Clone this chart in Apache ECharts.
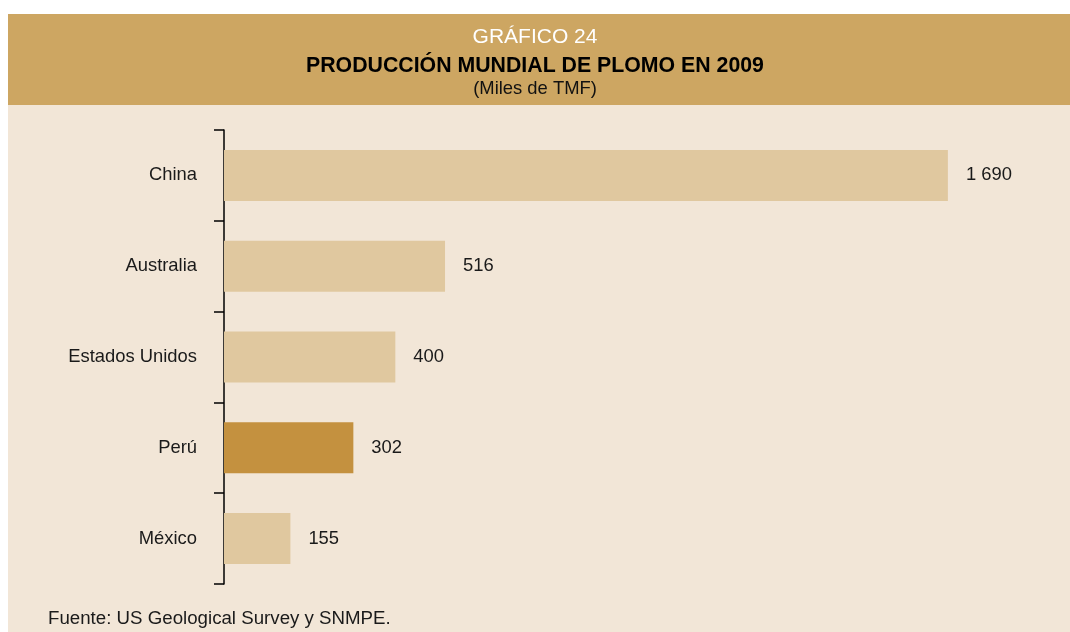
<!DOCTYPE html>
<html>
<head>
<meta charset="utf-8">
<script src="https://cdn.jsdelivr.net/npm/echarts@6/dist/echarts.min.js"></script>
<style>
  html, body { margin: 0; padding: 0; background: #ffffff; }
  #chart { width: 1070px; height: 632px; }
</style>
</head>
<body>
<div id="chart"></div>
<script>
const categories = ['China', 'Australia', 'Estados Unidos', 'Perú', 'México']
const values = [1690, 516, 400, 302, 155]
const highlight = 'Perú'

const barColor = '#E0C89F'
const peruColor = '#C4913F'
const fontFamily = '"Liberation Sans", Arial, sans-serif'

function formatMiles(v) {
  return String(v).replace(/\B(?=(\d{3})+(?!\d))/g, ' ')
}

const chart = echarts.init(document.getElementById('chart'))

const option = {
  animation: false,
  graphic: [
    {
      type: 'rect',
      z: -10,
      shape: { x: 8, y: 14, width: 1062, height: 618 },
      style: { fill: '#F2E6D7' }
    },
    {
      type: 'rect',
      z: -9,
      shape: { x: 8, y: 14, width: 1062, height: 91 },
      style: { fill: '#CDA662' }
    },
    {
      type: 'text',
      left: 'center',
      top: 27,
      style: { text: 'GRÁFICO 24', fill: '#ffffff', font: '21px ' + fontFamily }
    },
    {
      type: 'text',
      left: 'center',
      top: 56,
      style: {
        text: 'PRODUCCIÓN MUNDIAL DE PLOMO EN 2009',
        fill: '#000000',
        font: 'bold 21.3px ' + fontFamily
      }
    },
    {
      type: 'text',
      left: 'center',
      top: 80,
      style: { text: '(Miles de TMF)', fill: '#111111', font: '18.4px ' + fontFamily }
    },
    {
      type: 'text',
      left: 48,
      top: 609,
      style: {
        text: 'Fuente: US Geological Survey y SNMPE.',
        fill: '#1a1a1a',
        font: '18.7px ' + fontFamily
      }
    }
  ],
  grid: {
    left: 224,
    top: 130,
    width: 771,
    height: 454
  },
  xAxis: {
    type: 'value',
    min: 0,
    max: 1800,
    show: false
  },
  yAxis: {
    type: 'category',
    inverse: true,
    data: categories,
    axisLine: {
      show: true,
      lineStyle: { color: '#000000', width: 1.5 }
    },
    axisTick: {
      show: true,
      length: 10,
      lineStyle: { color: '#000000', width: 1.5 }
    },
    axisLabel: {
      margin: 27,
      color: '#1a1a1a',
      fontSize: 18.4,
      fontFamily: fontFamily,
      padding: [9, 0, 0, 0]
    },
    splitLine: { show: false }
  },
  series: [
    {
      type: 'bar',
      barWidth: 51,
      data: values.map((v, i) => ({
        value: v,
        itemStyle: { color: categories[i] === highlight ? peruColor : barColor }
      })),
      label: {
        show: true,
        position: 'right',
        distance: 18,
        color: '#1a1a1a',
        fontSize: 18.4,
        fontFamily: fontFamily,
        padding: [6, 0, 0, 0],
        formatter: (p) => formatMiles(p.value)
      }
    }
  ]
}

chart.setOption(option)
</script>
</body>
</html>
